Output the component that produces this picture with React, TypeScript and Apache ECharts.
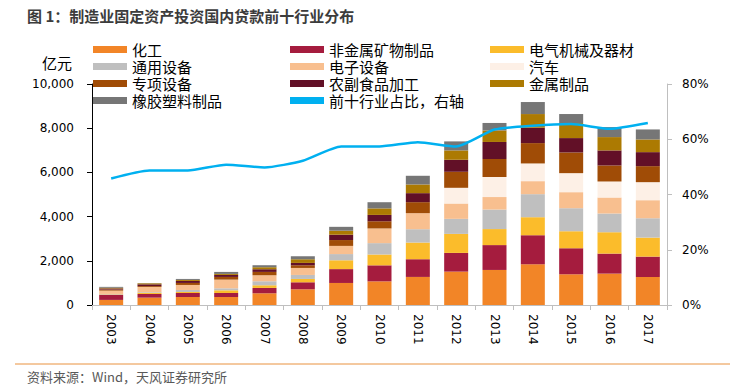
import React, { useEffect, useRef } from "react";
import * as echarts from "echarts";

const years = ["2003","2004","2005","2006","2007","2008","2009","2010","2011","2012","2013","2014","2015","2016","2017"];

const chem = [230, 333, 363, 363, 530, 711, 997, 1070, 1270, 1511, 1586, 1843, 1390, 1420, 1268];
const nonMetal = [230, 166, 181, 181, 242, 317, 627, 725, 801, 846, 1125, 1314, 1178, 906, 921];
const electrical = [20, 60, 45, 121, 121, 151, 400, 490, 755, 861, 725, 816, 770, 967, 861];
const generalEquip = [20, 30, 91, 91, 181, 181, 280, 514, 604, 680, 883, 1042, 1042, 846, 876];
const electronics = [150, 227, 227, 393, 272, 317, 370, 665, 725, 695, 566, 589, 725, 725, 816];
const auto = [0, 0, 0, 0, 0, 0, 0, 0, 0, 710, 906, 801, 861, 725, 816];
const specialEquip = [50, 40, 91, 121, 151, 121, 265, 325, 498, 725, 816, 921, 937, 725, 725];
const agriFood = [50, 80, 91, 91, 121, 106, 242, 287, 408, 544, 770, 695, 650, 680, 634];
const metalProducts = [30, 45, 45, 45, 91, 166, 181, 295, 393, 423, 520, 619, 680, 604, 574];
const rubberPlastic = [40, 10, 45, 91, 91, 136, 175, 280, 393, 408, 340, 544, 408, 453, 453];
const topTenShare = [45.8, 48.7, 48.7, 50.8, 49.8, 52.2, 57.4, 57.4, 58.9, 57.4, 63.5, 64.9, 65.5, 63.8, 65.9];

const leftTicks = { min: 0, max: 10000, interval: 2000 };
const rightTicks = { min: 0, max: 80, interval: 20 };

const barSeries = [
  { name: "化工", data: chem, color: "#F28527" },
  { name: "非金属矿物制品", data: nonMetal, color: "#A51C3E" },
  { name: "电气机械及器材", data: electrical, color: "#FBBC2B" },
  { name: "通用设备", data: generalEquip, color: "#BFBFBF" },
  { name: "电子设备", data: electronics, color: "#F8BF8F" },
  { name: "汽车", data: auto, color: "#FDF0E6" },
  { name: "专项设备", data: specialEquip, color: "#A04C06" },
  { name: "农副食品加工", data: agriFood, color: "#621027" },
  { name: "金属制品", data: metalProducts, color: "#AC7A02" },
  { name: "橡胶塑料制品", data: rubberPlastic, color: "#767676" },
];
const lineName = "前十行业占比，右轴";

const CJK = '"Noto Sans CJK SC", "Noto Sans", sans-serif';
const NUM = '"DejaVu Sans", sans-serif';

export default function App() {
  const ref = useRef<HTMLDivElement>(null);
  useEffect(() => {
    if (!ref.current) return;
    const chart = echarts.init(ref.current, null, { renderer: "svg" });
    const legendBase = {
      orient: "vertical" as const,
      itemWidth: 34,
      itemHeight: 7,
      itemGap: 2,
      padding: 0,
      icon: "rect",
      textStyle: { fontFamily: CJK, fontSize: 15, color: "#000" },
      top: 42,
    };
    chart.setOption({
      animation: false,
      backgroundColor: "#fff",
      textStyle: { fontFamily: CJK },
      grid: { left: 92, right: 63, top: 84, bottom: 85 },
      legend: [
        { ...legendBase, left: 93, data: ["化工", "通用设备", "专项设备", "橡胶塑料制品"] },
        { ...legendBase, left: 290, data: ["非金属矿物制品", "电子设备", "农副食品加工", { name: lineName, icon: "rect", itemStyle: { color: "#00B0F0" } }] },
        { ...legendBase, left: 490, data: ["电气机械及器材", "汽车", "金属制品"] },
      ],
      xAxis: {
        type: "category",
        data: years,
        axisLine: { lineStyle: { color: "#BFBFBF", width: 1 } },
        axisTick: { show: true, length: 5, lineStyle: { color: "#BFBFBF" } },
        axisLabel: { rotate: -90, margin: 9, color: "#000", fontFamily: NUM, fontSize: 12 },
      },
      yAxis: [
        {
          type: "value",
          ...leftTicks,
          axisLine: { show: true, lineStyle: { color: "#000", width: 1 } },
          axisTick: { show: true, length: 5, lineStyle: { color: "#000" } },
          splitLine: { show: false },
          axisLabel: {
            margin: 18,
            color: "#000",
            fontFamily: NUM,
            fontSize: 12,
            formatter: (v: number) => v.toLocaleString("en-US"),
          },
        },
        {
          type: "value",
          ...rightTicks,
          position: "right",
          axisLine: { show: true, lineStyle: { color: "#BFBFBF", width: 1 } },
          axisTick: { show: true, length: 5, lineStyle: { color: "#BFBFBF" } },
          splitLine: { show: false },
          axisLabel: { margin: 15, color: "#000", fontFamily: NUM, fontSize: 12, formatter: "{value}%" },
        },
      ],
      series: [
        ...barSeries.map((s) => ({
          name: s.name,
          type: "bar",
          stack: "total",
          data: s.data,
          barWidth: 24,
          itemStyle: { color: s.color },
          yAxisIndex: 0,
        })),
        {
          name: lineName,
          type: "line",
          yAxisIndex: 1,
          data: topTenShare,
          symbol: "none",
          smooth: 0.2,
          z: 10,
          itemStyle: { color: "#00B0F0" },
          lineStyle: { color: "#00B0F0", width: 2.5 },
        },
      ],
      graphic: [
        {
          type: "text",
          left: 27,
          top: 8,
          style: { text: "图 1：制造业固定资产投资国内贷款前十行业分布", font: `bold 15px ${CJK}`, fill: "#3c3c3c" },
        },
        {
          type: "text",
          left: 42,
          top: 55,
          style: { text: "亿元", font: `15px ${CJK}`, fill: "#000" },
        },
        {
          type: "line",
          shape: { x1: 15, y1: 364, x2: 730, y2: 364 },
          style: { stroke: "#E9923F", lineWidth: 1 },
        },
        {
          type: "text",
          left: 27,
          top: 370,
          style: { text: "资料来源：Wind，天风证券研究所", font: `13px ${CJK}`, fill: "#595959" },
        },
      ],
    });
    return () => chart.dispose();
  }, []);
  return <div ref={ref} style={{ position: "fixed", left: 0, top: 0, width: 730, height: 390 }} />;
}
